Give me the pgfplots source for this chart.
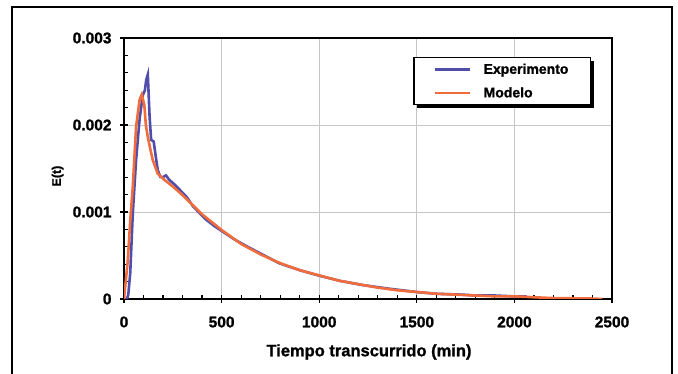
\documentclass[border=0pt]{standalone}
\usepackage{pgfplots}
\pgfplotsset{compat=1.18}
\usepackage{fontspec}
\setmainfont{Liberation Sans}[BoldFeatures={FakeBold=1.2}]
\definecolor{expblue}{RGB}{80,78,170}
\definecolor{modorange}{RGB}{240,108,60}
\begin{document}
\begin{tikzpicture}
\useasboundingbox (0,0) rectangle (678bp,374bp);
\draw[line width=2bp] (11.5bp,-2bp) -- (11.5bp,367bp) -- (671.5bp,367bp) -- (671.5bp,-2bp);
\begin{axis}[
  at={(124bp,75bp)}, anchor=south west,
  scale only axis, width=488bp, height=261bp,
  xmin=0, xmax=2500, ymin=0, ymax=0.003,
  xtick={0,500,1000,1500,2000,2500},
  ytick={0,0.001,0.002,0.003},
  yticklabels={0,0.001,0.002,0.003},
  xticklabels={0,500,1000,1500,2000,2500},
  minor x tick num=4, minor y tick num=4,
  tick pos=left, tick align=inside,
  major tick length=8bp, minor tick length=4bp,
  every major x tick/.append style={yshift=-4bp},
  every major y tick/.append style={xshift=-4bp},
  tick style={black, line width=1.2bp},
  grid=major, major grid style={gray!45, line width=0.8bp},
  axis line style={line width=1.8bp},
  scaled y ticks=false,
  /pgf/number format/assume math mode=true,
  ticklabel style={font=\fontsize{15.5bp}{18bp}\selectfont\bfseries},
  yticklabel style={xshift=-9bp},
  xticklabel style={yshift=-14bp},
  xlabel={Tiempo transcurrido (min)},
  ylabel={E(t)},
  xlabel style={at={(axis description cs:0.502,-0.203)}, anchor=center, font=\fontsize{16.5bp}{19bp}\selectfont\bfseries},
  ylabel style={at={(axis description cs:-0.136,0.471)}, anchor=center, font=\fontsize{12.5bp}{15bp}\selectfont\bfseries},
  legend style={name=leg, at={(0.957,0.927)}, anchor=north east, draw=black, line width=1.2bp, fill=white,
    font=\fontsize{14bp}{16bp}\selectfont\bfseries,
    inner xsep=20bp, inner ysep=4bp, row sep=8bp, column sep=10bp,
    cells={anchor=west}},
  legend image code/.code={\draw[#1] (0bp,0bp) -- (35bp,0bp);},
]
\addplot[expblue, line width=2.6bp] coordinates {
(0,0) (15,0) (22,0.00005) (32,0.0003) (45,0.00098) (62,0.0016) (80,0.00207)
(96,0.00234) (107,0.0024) (114,0.00252) (122,0.00258) (131,0.0021) (139,0.00183)
(152,0.00181) (162,0.00165) (173,0.00148) (187,0.0014) (198,0.0014) (215,0.00142)
(232,0.00137) (262,0.00131) (292,0.00124) (322,0.00117) (352,0.00107) (386,0.00099)
(422,0.00091) (462,0.00084) (502,0.00078) (562,0.00069) (625,0.00061) (702,0.00052)
(796,0.00041) (902,0.00033) (997,0.00027) (1103,0.00021) (1223,0.00016) (1352,0.00012)
(1500,0.00008) (1600,0.00006) (1735,0.00005) (1800,0.00004) (1900,0.00004) (2000,0.00003) (2062,0.00003)
};
\addlegendentry{Experimento}
\addplot[modorange, line width=2.6bp] coordinates {
(0,0) (19,0.00043) (32,0.0009) (45,0.00129) (62,0.00198) (80,0.00229) (91,0.00235)
(104,0.00223) (112,0.002) (122,0.00186) (137,0.0017) (147,0.0016) (173,0.00144)
(207,0.00137) (252,0.00129) (292,0.00121) (352,0.00108) (402,0.00097) (502,0.00079)
(602,0.00063) (702,0.00051) (802,0.00041) (902,0.00033) (1002,0.00027) (1102,0.00021)
(1202,0.00017) (1302,0.00013) (1402,0.0001) (1502,0.00008) (1602,0.00006) (1702,0.00005)
(1802,0.00004) (1902,0.00003) (2002,0.00003) (2102,0.00002) (2202,0.00001) (2302,0.000008)
(2402,0.000005) (2450,0)
};
\addlegendentry{Modelo}
\end{axis}
\draw[black, line width=3bp] ([xshift=1.5bp,yshift=-4bp]leg.north east) -- ([xshift=1.5bp,yshift=-1.5bp]leg.south east) -- ([xshift=4bp,yshift=-1.5bp]leg.south west);
\end{tikzpicture}
\end{document}
